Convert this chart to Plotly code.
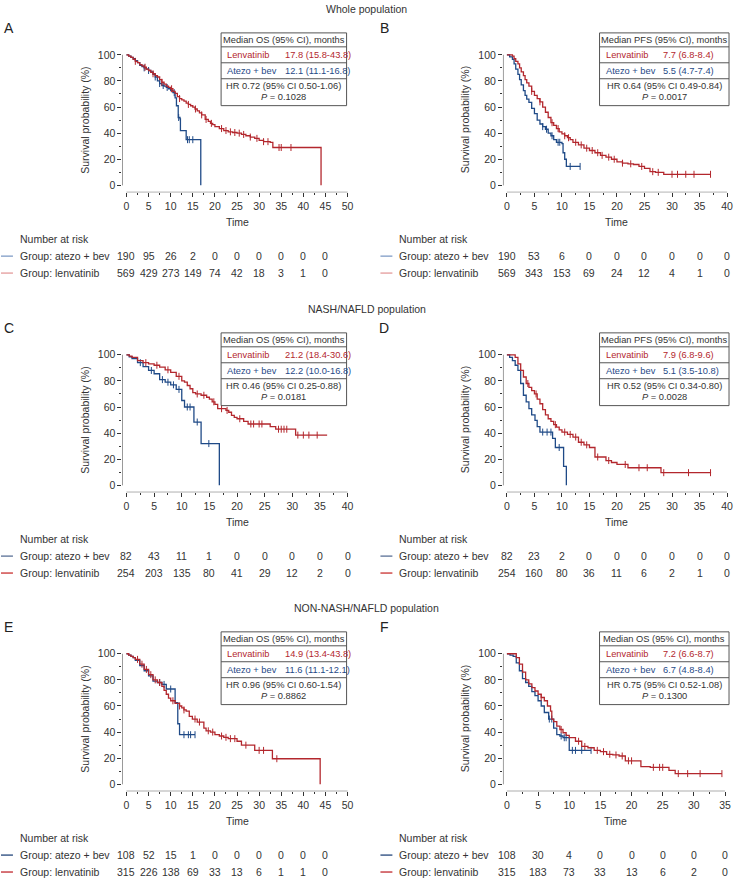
import plotly.graph_objects as go

W, H = 736, 879
RED = "#B3272D"
BLUE = "#1F4A87"
TXT = "#333333"
BOXC = "#555555"
FONT = "Liberation Sans, Arial, sans-serif"

# ---------------- data: Kaplan-Meier step points (time, survival %) ----------------
# Panel A - OS, whole population
A_lenva_t = [0, 0.5, 1, 1.5, 2, 2.5, 3, 3.5, 4, 4.5, 5, 5.5, 6, 6.5, 7, 7.5, 8, 8.5, 9, 9.5, 10, 10.5, 11, 11.5, 12,
             12.5, 13, 13.5, 14, 14.5, 15, 15.5, 16, 16.5, 17, 17.8, 18.5, 19, 19.5, 20, 21, 22, 23, 24, 25, 26, 27,
             28, 29, 30, 31, 32.5, 33.1, 44.0, 44.0]
A_lenva_s = [100, 99, 98, 96.5, 95, 94, 92.5, 91.5, 90.5, 89, 88, 86.5, 85.5, 84, 83, 81, 79, 77.5, 76, 75, 74, 72,
             70.5, 68, 66.5, 65.5, 64.5, 63, 62, 61, 60, 58.5, 57, 55.5, 54, 50.5, 49, 47.5, 46.5, 45, 43.5, 42, 41,
             40.5, 40, 39, 38, 37, 36, 34.5, 33.5, 33, 29, 29, 0]
A_lenva_c = [2, 4.2, 6, 8, 10.2, 12, 14, 15.6, 17, 18, 19.2, 21.5, 22.5, 23.5, 24.5, 25.5, 26.5, 28, 29.5, 31, 32,
             34.5, 35, 37.2]
A_atezo_t = [0, 0.5, 1, 1.5, 2, 2.5, 3, 3.5, 4, 4.5, 5, 5.5, 6, 6.5, 7, 7.5, 8, 8.5, 9, 9.5, 10, 10.5, 11, 11.3,
             11.7, 12.1, 12.2, 13.5, 16.8, 16.8]
A_atezo_s = [100, 99, 98, 97, 95.5, 94, 92, 91, 90, 89, 88, 87, 85, 83, 80, 78, 76.5, 76, 75, 74, 72.5, 71, 67, 61,
             52, 51, 42, 35, 35, 0]
A_atezo_c = [4, 5, 6.5, 7.5, 8.3, 9.2, 10.8, 11.8, 13.8, 14.2, 15]

# Panel B - PFS, whole population
B_lenva_t = [0, 1, 1.3, 1.6, 2, 2.3, 2.6, 3, 3.3, 3.6, 4, 4.5, 5, 5.5, 6, 6.5, 7, 7.5, 8, 8.5, 9, 9.5, 10, 10.5, 11,
             11.5, 12, 13, 14, 15, 16, 17, 18, 19, 20, 21, 22, 23, 24, 25, 26, 27, 28.5, 37.0]
B_lenva_s = [100, 99, 97, 95, 93, 90, 87, 84, 81, 78.5, 76, 72, 69, 66.5, 64, 60, 56, 52, 48, 46, 43.5, 41, 39.5, 38,
             36.5, 35, 33, 31, 28.5, 26.7, 25, 23, 21.6, 20, 18, 17, 16.5, 16, 14.5, 13, 10.5, 10, 8.5, 8.5]
B_lenva_c = [4.5, 6, 8.2, 9.3, 10.5, 11.2, 12.5, 13.5, 14.5, 15.5, 16.5, 17.3, 18.5, 19.5, 21, 22.5, 24.5, 26.5,
             27.5, 30, 31, 32.5, 34, 37]
B_atezo_t = [0, 0.5, 1, 1.3, 1.6, 2, 2.3, 2.6, 3, 3.3, 3.6, 4, 4.5, 5, 5.5, 6, 6.5, 7, 7.5, 8, 8.5, 9, 10, 10.2,
             10.5, 10.8, 13.3]
B_atezo_s = [100, 98.5, 96.5, 93, 89, 85, 81, 77, 72.5, 69, 66, 63.5, 59, 55, 50, 47, 45, 43, 40, 38, 35, 33, 32, 25,
             20, 14.5, 14.5]
B_atezo_c = [6.5, 7.2, 8.2, 9.3, 9.6, 11.5, 13.3]

# Panel C - OS, NASH/NAFLD
C_lenva_t = [0, 0.5, 1, 2, 3, 4, 5, 6, 7, 8, 9, 10, 10.5, 11, 11.5, 12, 12.5, 13.5, 14.5, 15, 15.5, 16, 16.5, 18,
             18.5, 19, 19.5, 20, 21.2, 22, 25, 26, 27, 30.6, 36.3]
C_lenva_s = [100, 99, 98, 95.6, 94, 93, 92, 90.6, 88.5, 86.5, 83.5, 80, 79, 76.5, 74, 71, 70, 69, 67.5, 66, 64, 62,
             58.7, 57.4, 56, 53.6, 52, 51, 49, 47, 47, 45, 43, 38.5, 38.5]
C_lenva_c = [3.5, 5.5, 7.5, 9.5, 12.8, 14, 15.8, 17.2, 18.2, 20.5, 22.5, 23, 24, 24.5, 27.5, 28, 28.5, 29, 31, 32,
             33, 34.5]
C_atezo_t = [0, 0.5, 1, 2, 3, 4, 5, 6, 7, 8, 9, 10, 10.5, 12.2, 13.5, 16.8, 16.8]
C_atezo_s = [100, 98.5, 97, 94, 91, 88, 85.5, 81, 79, 77, 73.5, 65, 60, 48.5, 32, 32, 0]
C_atezo_c = [2.5, 4.5, 6.5, 7.5, 8.5, 9.5, 11, 11.5, 12.8, 14.9]

# Panel D - PFS, NASH/NAFLD
D_lenva_t = [0, 1, 1.5, 2, 2.5, 3, 3.5, 4, 4.5, 5, 5.5, 6, 6.5, 7, 7.5, 8, 8.5, 9, 9.5, 10, 11, 12, 13, 14, 15, 16,
             17, 18, 19, 20, 21, 22, 28, 37.1]
D_lenva_s = [100, 100, 98, 93, 88, 83, 78, 75, 72.5, 70, 66, 62.5, 58, 54, 51, 49, 46.5, 44.6, 42.5, 40.8, 39, 37,
             33, 31, 29, 21.7, 21.7, 19, 17.5, 16, 16, 13.5, 9.7, 9.7]
D_lenva_c = [3.8, 5.3, 8.8, 10.5, 11.5, 12.5, 13.5, 14.5, 16.5, 18.5, 21.5, 24, 25.5, 28.5, 33, 37]
D_atezo_t = [0, 0.5, 1, 1.5, 2, 2.5, 3, 3.5, 4, 4.5, 5.1, 5.5, 6, 8.3, 8.8, 10.3, 10.8, 10.8]
D_atezo_s = [100, 98, 95.6, 92, 88, 78, 69, 64, 58.7, 54, 49.7, 45, 40.8, 36, 29, 14.5, 14.5, 0]
D_atezo_c = [6.5, 7.3, 8.0, 9.5]

# Panel E - OS, NON-NASH/NAFLD
E_lenva_t = [0, 0.5, 1, 1.5, 2, 3, 4, 5, 6, 7, 8, 8.5, 9, 9.5, 10, 11, 12, 12.5, 13, 13.5, 14.2, 14.9, 16, 17, 17.5,
             18, 19, 20, 21, 22, 23, 25, 26, 29, 33, 43.8, 43.8]
E_lenva_s = [100, 99, 98, 97, 95.7, 92, 88, 84, 80, 78, 75, 72, 69, 66, 64, 62, 60, 58.5, 57, 56, 52, 50, 47.7, 47.7,
             43, 41, 40, 38, 37, 36, 35, 33, 30, 26, 19.6, 19.6, 0]
E_lenva_c = [2.5, 3.5, 4.5, 5.5, 6.5, 7.5, 10.5, 12, 13, 15.5, 16.5, 18.5, 19.5, 21.5, 22.5, 23.5, 24.5, 27, 30, 31,
             34]
E_atezo_t = [0, 0.5, 1, 1.5, 2, 3, 4, 5, 6, 7, 8, 9, 11, 11.6, 12, 15.5]
E_atezo_s = [100, 99, 98, 97, 95, 91, 87, 83, 79, 78, 76.5, 73, 62.5, 46.4, 38, 38]
E_atezo_c = [7.5, 8.5, 10, 13, 14, 14.5, 15.5]

# Panel F - NON-NASH/NAFLD (second endpoint)
F_lenva_t = [0, 1, 1.5, 2, 2.5, 3, 3.5, 4, 4.5, 5, 5.5, 6, 6.5, 7, 7.2, 7.5, 8, 8.5, 9, 9.5, 10, 11, 12, 13, 14, 15,
             16, 17, 18, 19, 21.5, 23, 26, 27, 34.5]
F_lenva_s = [100, 100, 97, 92, 86, 80, 77, 74, 71.5, 69, 66.5, 64, 60, 56, 50, 48, 44.6, 42, 39.5, 37.5, 35.7, 33,
             29, 28, 26, 25, 23, 22.5, 21.7, 18, 13.5, 13, 10.7, 8.2, 8.2]
F_lenva_c = [5.5, 8.7, 11.5, 12.5, 14.5, 15.5, 16.5, 17.5, 18.5, 19.5, 20, 23.5, 24.5, 25, 27.5, 29, 31, 34.5]
F_atezo_t = [0, 0.5, 1, 1.5, 2, 2.5, 3, 3.5, 4, 4.5, 5, 5.5, 6, 6.7, 7.5, 8, 8.5, 9, 10, 13.5]
F_atezo_s = [100, 99, 98, 93, 87, 81, 78, 75, 71, 68, 64, 60, 55, 50, 43, 38, 37, 35.7, 26, 26]
F_atezo_c = [6.8, 7.2, 8.7, 9.2, 9.5, 10.5, 11, 12, 13.5]

# ---------------- numbers at risk ----------------
A_risk_t = [0, 5, 10, 15, 20, 25, 30, 35, 40, 45]
A_risk_atezo = [190, 95, 26, 2, 0, 0, 0, 0, 0, 0]
A_risk_lenva = [569, 429, 273, 149, 74, 42, 18, 3, 1, 0]
B_risk_t = [0, 5, 10, 15, 20, 25, 30, 35, 40]
B_risk_atezo = [190, 53, 6, 0, 0, 0, 0, 0, 0]
B_risk_lenva = [569, 343, 153, 69, 24, 12, 4, 1, 0]
C_risk_t = [0, 5, 10, 15, 20, 25, 30, 35, 40]
C_risk_atezo = [82, 43, 11, 1, 0, 0, 0, 0, 0]
C_risk_lenva = [254, 203, 135, 80, 41, 29, 12, 2, 0]
D_risk_t = [0, 5, 10, 15, 20, 25, 30, 35, 40]
D_risk_atezo = [82, 23, 2, 0, 0, 0, 0, 0, 0]
D_risk_lenva = [254, 160, 80, 36, 11, 6, 2, 1, 0]
E_risk_t = [0, 5, 10, 15, 20, 25, 30, 35, 40, 45]
E_risk_atezo = [108, 52, 15, 1, 0, 0, 0, 0, 0, 0]
E_risk_lenva = [315, 226, 138, 69, 33, 13, 6, 1, 1, 0]
F_risk_t = [0, 5, 10, 15, 20, 25, 30, 35]
F_risk_atezo = [108, 30, 4, 0, 0, 0, 0, 0]
F_risk_lenva = [315, 183, 73, 33, 13, 6, 2, 0]

# ---------------- summary box texts ----------------
A_box = ["Median OS (95% CI), months", "17.8 (15.8-43.8)", "12.1 (11.1-16.8)", "HR 0.72 (95% CI 0.50-1.06)", "0.1028"]
B_box = ["Median PFS (95% CI), months", "7.7 (6.8-8.4)", "5.5 (4.7-7.4)", "HR 0.64 (95% CI 0.49-0.84)", "0.0017"]
C_box = ["Median OS (95% CI), months", "21.2 (18.4-30.6)", "12.2 (10.0-16.8)", "HR 0.46 (95% CI 0.25-0.88)", "0.0181"]
D_box = ["Median PFS (95% CI), months", "7.9 (6.8-9.6)", "5.1 (3.5-10.8)", "HR 0.52 (95% CI 0.34-0.80)", "0.0028"]
E_box = ["Median OS (95% CI), months", "14.9 (13.4-43.8)", "11.6 (11.1-12.1)", "HR 0.96 (95% CI 0.60-1.54)", "0.8862"]
F_box = ["Median OS (95% CI), months", "7.2 (6.6-8.7)", "6.7 (4.8-8.4)", "HR 0.75 (95% CI 0.52-1.08)", "0.1300"]

SECTION_TITLES = ["Whole population", "NASH/NAFLD population", "NON-NASH/NAFLD population"]
PANEL_LETTERS = ["A", "B", "C", "D", "E", "F"]

PANELS = [
    dict(col=0, row=0, tmax=50, x1=349, lt=A_lenva_t, ls=A_lenva_s, lc=A_lenva_c, at=A_atezo_t, as_=A_atezo_s,
         ac=A_atezo_c, rt=A_risk_t, ra=A_risk_atezo, rl=A_risk_lenva, box=A_box),
    dict(col=1, row=0, tmax=40, x1=730, lt=B_lenva_t, ls=B_lenva_s, lc=B_lenva_c, at=B_atezo_t, as_=B_atezo_s,
         ac=B_atezo_c, rt=B_risk_t, ra=B_risk_atezo, rl=B_risk_lenva, box=B_box),
    dict(col=0, row=1, tmax=40, x1=349, lt=C_lenva_t, ls=C_lenva_s, lc=C_lenva_c, at=C_atezo_t, as_=C_atezo_s,
         ac=C_atezo_c, rt=C_risk_t, ra=C_risk_atezo, rl=C_risk_lenva, box=C_box),
    dict(col=1, row=1, tmax=40, x1=730, lt=D_lenva_t, ls=D_lenva_s, lc=D_lenva_c, at=D_atezo_t, as_=D_atezo_s,
         ac=D_atezo_c, rt=D_risk_t, ra=D_risk_atezo, rl=D_risk_lenva, box=D_box),
    dict(col=0, row=2, tmax=50, x1=349, lt=E_lenva_t, ls=E_lenva_s, lc=E_lenva_c, at=E_atezo_t, as_=E_atezo_s,
         ac=E_atezo_c, rt=E_risk_t, ra=E_risk_atezo, rl=E_risk_lenva, box=E_box),
    dict(col=1, row=2, tmax=35, x1=728, lt=F_lenva_t, ls=F_lenva_s, lc=F_lenva_c, at=F_atezo_t, as_=F_atezo_s,
         ac=F_atezo_c, rt=F_risk_t, ra=F_risk_atezo, rl=F_risk_lenva, box=F_box),
]

# ---------------- layout geometry (pixels) ----------------
X0 = [127, 509]          # pixel of t = 0
LETTER_X = [9, 386]
NAR_X = [18, 399]
BOX_X = [(222, 348), (602, 732)]
ROW_OFF = [0, 301, 601]
LEG_COLORS = [("#7F9CC6", "#E39A9A"), ("#5A7097", "#C8302F"), ("#23457A", "#C0272D")]


def px_x(p):
    return p / W


def px_y(p):
    return 1 - p / H


def step_val(ts, ss, c):
    v = ss[0]
    for t, s in zip(ts, ss):
        if t <= c:
            v = s
        else:
            break
    return v


fig = go.Figure()
shapes = []
annotations = []
layout_axes = {}

tickfont = dict(size=10.5, color=TXT, family=FONT)

for r, title in enumerate(SECTION_TITLES):
    annotations.append(dict(x=px_x(368), y=px_y(6 + ROW_OFF[r]), xref="paper", yref="paper", text=title,
                            showarrow=False, xanchor="center", yanchor="middle",
                            font=dict(size=10.5, color=TXT, family=FONT)))

for i, p in enumerate(PANELS, start=1):
    xa = "x" if i == 1 else f"x{i}"
    ya = "y" if i == 1 else f"y{i}"
    col, row, tmax, x1 = p["col"], p["row"], p["tmax"], p["x1"]
    x0 = X0[col]
    off = ROW_OFF[row]
    y100, y0 = 52 + off, 183 + off
    xs = (x1 - x0) / tmax
    ysc = (y0 - y100) / 100
    xr = [-4 / xs, tmax + 3 / xs]
    yr = [-7 / ysc, 100 + 3 / ysc]

    layout_axes["xaxis" if i == 1 else f"xaxis{i}"] = dict(
        domain=[px_x(x0 - 4), px_x(x1 + 3)], range=xr, anchor=ya, tickmode="linear", tick0=0, dtick=5,
        ticks="outside", ticklen=4, tickwidth=1, tickcolor=TXT, showline=False, showgrid=False, zeroline=False,
        tickfont=tickfont, fixedrange=True,
        minor=dict(ticks="outside", ticklen=2, tick0=0, dtick=2.5, tickcolor=TXT, tickwidth=1, showgrid=False))
    layout_axes["yaxis" if i == 1 else f"yaxis{i}"] = dict(
        domain=[px_y(y0 + 7), px_y(y100 - 3)], range=yr, anchor=xa, tickmode="linear", tick0=0, dtick=20,
        ticks="outside", ticklen=4, tickwidth=1, tickcolor=TXT, showline=False, showgrid=False, zeroline=False,
        tickfont=tickfont, fixedrange=True,
        minor=dict(ticks="outside", ticklen=2, tick0=0, dtick=10, tickcolor=TXT, tickwidth=1, showgrid=False))

    # detached axis lines
    shapes.append(dict(type="line", xref=xa, yref=ya, x0=0, x1=tmax, y0=yr[0], y1=yr[0],
                       line=dict(color=TXT, width=1)))
    shapes.append(dict(type="line", xref=xa, yref=ya, x0=xr[0], x1=xr[0], y0=0, y1=100,
                       line=dict(color=TXT, width=1)))

    # curves
    for t, s, c, color in [(p["at"], p["as_"], p["ac"], BLUE), (p["lt"], p["ls"], p["lc"], RED)]:
        fig.add_trace(go.Scatter(x=t, y=s, mode="lines", line=dict(color=color, width=1.3, shape="hv"),
                                 xaxis=xa, yaxis=ya, showlegend=False, hoverinfo="skip"))
        fig.add_trace(go.Scatter(x=c, y=[step_val(t, s, ci) for ci in c], mode="markers",
                                 marker=dict(symbol="line-ns-open", size=5, color=color,
                                             line=dict(width=1, color=color)),
                                 xaxis=xa, yaxis=ya, showlegend=False, hoverinfo="skip"))

    # panel letter
    annotations.append(dict(x=px_x(LETTER_X[col]), y=px_y(25 + off), xref="paper", yref="paper",
                            text=PANEL_LETTERS[i - 1], showarrow=False, xanchor="center", yanchor="middle",
                            font=dict(size=14, color="#222222", family=FONT)))
    # y title
    annotations.append(dict(x=px_x(x0 - 42), y=px_y((y100 + y0) / 2), xref="paper", yref="paper",
                            text="Survival probability (%)", textangle=-90, showarrow=False,
                            xanchor="center", yanchor="middle", font=dict(size=10.5, color=TXT, family=FONT)))
    # x title
    annotations.append(dict(x=tmax / 2, y=px_y(220 + off), xref=xa, yref="paper", text="Time",
                            showarrow=False, xanchor="center", yanchor="middle",
                            font=dict(size=10.5, color=TXT, family=FONT)))

    # number at risk
    nx = NAR_X[col]
    annotations.append(dict(x=px_x(nx), y=px_y(237 + off), xref="paper", yref="paper", text="Number at risk",
                            showarrow=False, xanchor="left", yanchor="middle",
                            font=dict(size=10.5, color=TXT, family=FONT)))
    legc = LEG_COLORS[row]
    for k, (label, vals, lc) in enumerate([("Group: atezo + bev", p["ra"], legc[0]),
                                           ("Group: lenvatinib", p["rl"], legc[1])]):
        yy = 254 + 17 * k + off
        shapes.append(dict(type="line", xref="paper", yref="paper", x0=px_x(nx - 17), x1=px_x(nx - 5),
                           y0=px_y(yy), y1=px_y(yy), line=dict(color=lc, width=1.3)))
        annotations.append(dict(x=px_x(nx), y=px_y(yy), xref="paper", yref="paper", text=label,
                                showarrow=False, xanchor="left", yanchor="middle",
                                font=dict(size=10.5, color=TXT, family=FONT)))
        for tt, v in zip(p["rt"], vals):
            annotations.append(dict(x=tt, y=px_y(yy), xref=xa, yref="paper", text=str(v), showarrow=False,
                                    xanchor="center", yanchor="middle",
                                    font=dict(size=10.5, color=TXT, family=FONT)))

    # summary box
    bl, br = BOX_X[col]
    T = 30 + off
    shapes.append(dict(type="rect", xref="paper", yref="paper", x0=px_x(bl), x1=px_x(br), y0=px_y(T),
                       y1=px_y(T + 73), line=dict(color=BOXC, width=1)))
    for dy in (14, 30, 46):
        shapes.append(dict(type="line", xref="paper", yref="paper", x0=px_x(bl), x1=px_x(br),
                           y0=px_y(T + dy), y1=px_y(T + dy), line=dict(color=BOXC, width=1)))
    bf = dict(size=9.3, color=TXT, family=FONT)
    box = p["box"]
    cx = (bl + br) / 2
    annotations += [
        dict(x=px_x(cx), y=px_y(T + 7), text=box[0], xanchor="center", font=bf),
        dict(x=px_x(bl + 4), y=px_y(T + 22), text="Lenvatinib", xanchor="left", font=dict(bf, color=RED)),
        dict(x=px_x(bl + 62), y=px_y(T + 22), text=box[1], xanchor="left", font=dict(bf, color=RED)),
        dict(x=px_x(bl + 4), y=px_y(T + 38), text="Atezo + bev", xanchor="left", font=dict(bf, color=BLUE)),
        dict(x=px_x(bl + 62), y=px_y(T + 38), text=box[2], xanchor="left", font=dict(bf, color=BLUE)),
        dict(x=px_x(cx), y=px_y(T + 53), text=box[3], xanchor="center", font=bf),
        dict(x=px_x(cx), y=px_y(T + 64), text="<i>P</i> = " + box[4], xanchor="center", font=bf),
    ]
    for a in annotations[-7:]:
        a.update(xref="paper", yref="paper", showarrow=False, yanchor="middle")

fig.update_layout(width=W, height=H, margin=dict(l=0, r=0, t=0, b=0), paper_bgcolor="white",
                  plot_bgcolor="white", showlegend=False, shapes=shapes, annotations=annotations,
                  font=dict(family=FONT, color=TXT), **layout_axes)

fig.write_html("out.html", config={"displayModeBar": False, "staticPlot": True},
               post_script="document.body.style.margin='0px';document.body.style.overflow='hidden';")
